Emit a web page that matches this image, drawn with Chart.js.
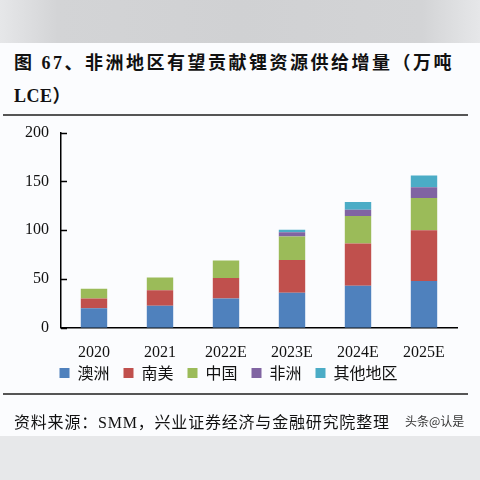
<!DOCTYPE html>
<html>
<head>
<meta charset="utf-8">
<script src="https://cdn.jsdelivr.net/npm/chart.js@4.4.1/dist/chart.umd.min.js"></script>
<style>
  html, body { margin: 0; padding: 0; }
  body {
    width: 480px; height: 480px; position: relative; overflow: hidden;
    background: #fbfcfe;
    font-family: "Liberation Serif", "Noto Sans CJK SC", serif;
    color: #111;
  }
  .band-top { position: absolute; left: 0; top: 0; width: 480px; height: 43px;
    background: linear-gradient(90deg, #e6e7e9 0%, #d3d4d6 12%, #d0d1d3 50%, #d3d4d6 88%, #e6e7e9 100%); }
  .band-bot { position: absolute; left: 0; top: 436px; width: 480px; height: 44px; background: #e7e8ea; }
  .title { position: absolute; left: 14px; top: 47px; font-size: 18px; font-weight: bold;
    line-height: 33px; letter-spacing: 2.5px; white-space: nowrap; }
  .title span { letter-spacing: 0.5px; }
  .rule { position: absolute; left: 3px; width: 465px; height: 1.5px; background: #555; }
  .source { position: absolute; left: 14px; top: 409px; font-size: 16px; letter-spacing: 0.8px; white-space: nowrap; }
  .mark { position: absolute; left: 405px; top: 412px; font-size: 12px; color: #333;
    font-family: "Noto Sans CJK SC", sans-serif; white-space: nowrap; }
  canvas { position: absolute; left: 0; top: 111px; }
</style>
</head>
<body>
<div class="band-top"></div>
<div class="title">图 67、非洲地区有望贡献锂资源供给增量（万吨<br><span>LCE）</span></div>
<div class="rule" style="top:114px"></div>
<canvas id="liChart" width="480" height="306"></canvas>
<div class="rule" style="top:393px"></div>
<div class="source">资料来源：SMM，兴业证券经济与金融研究院整理</div>
<div class="mark">头条@认是</div>
<div class="band-bot"></div>
<script>
// 数据（万吨 LCE）
const categories = ['2020', '2021', '2022E', '2023E', '2024E', '2025E'];
const australia = [20, 22.5, 30, 36, 43, 48];
const southAmerica = [10, 16, 21, 33.5, 43.5, 52];
const china = [10, 13, 18, 24, 28, 33];
const africa = [0, 0, 0, 4.5, 6.5, 11];
const others = [0, 0, 0, 2.5, 8, 12];
const yTicks = [0, 50, 100, 150, 200];

const serif = '"Liberation Serif", "Noto Sans CJK SC", serif';

// y 轴刻度线朝内
const innerTicks = {
    id: 'innerTicks',
    afterDraw(chart) {
        const ctx = chart.ctx;
        const y = chart.scales.y;
        const left = chart.chartArea.left;
        ctx.save();
        ctx.strokeStyle = '#000';
        ctx.lineWidth = 1.5;
        yTicks.forEach(v => {
            const py = Math.round(y.getPixelForValue(v)) + 0.5;
            ctx.beginPath();
            ctx.moveTo(left, py);
            ctx.lineTo(left + 6, py);
            ctx.stroke();
        });
        ctx.restore();
    }
};

// 图例上移，贴近横轴标签
const legendShift = {
    id: 'legendShift',
    afterLayout(chart) {
        const lg = chart.legend;
        lg.top -= 26;
        lg.bottom -= 26;
    }
};

const ctx = document.getElementById('liChart').getContext('2d');
const liChart = new Chart(ctx, {
    type: 'bar',
    data: {
        labels: categories,
        datasets: [
            { label: '澳洲', data: australia, backgroundColor: '#4F81BD' },
            { label: '南美', data: southAmerica, backgroundColor: '#C0504D' },
            { label: '中国', data: china, backgroundColor: '#9BBB59' },
            { label: '非洲', data: africa, backgroundColor: '#8064A2' },
            { label: '其他地区', data: others, backgroundColor: '#4BACC6' }
        ]
    },
    options: {
        responsive: false,
        animation: false,
        categoryPercentage: 1,
        barPercentage: 0.4,
        layout: { padding: { left: 0, right: 23, top: 15, bottom: 0 } },
        plugins: {
            tooltip: { enabled: false },
            legend: {
                position: 'bottom',
                labels: {
                    boxWidth: 10,
                    boxHeight: 10,
                    padding: 14,
                    color: '#111',
                    font: { family: '"Noto Sans CJK SC", sans-serif', size: 16 }
                }
            }
        },
        scales: {
            x: {
                stacked: true,
                grid: { display: false, drawTicks: false },
                border: { display: true, color: '#000', width: 1.5 },
                ticks: { color: '#111', padding: 15, font: { family: serif, size: 16 } }
            },
            y: {
                stacked: true,
                min: 0,
                max: 200,
                afterFit(scale) { scale.width = 61; },
                afterBuildTicks(scale) { scale.ticks = yTicks.map(v => ({ value: v })); },
                grid: { display: false, drawTicks: false },
                border: { display: true, color: '#000', width: 1.5 },
                ticks: { color: '#111', padding: 12, font: { family: serif, size: 16 } }
            }
        }
    },
    plugins: [innerTicks, legendShift]
});
</script>
</body>
</html>
